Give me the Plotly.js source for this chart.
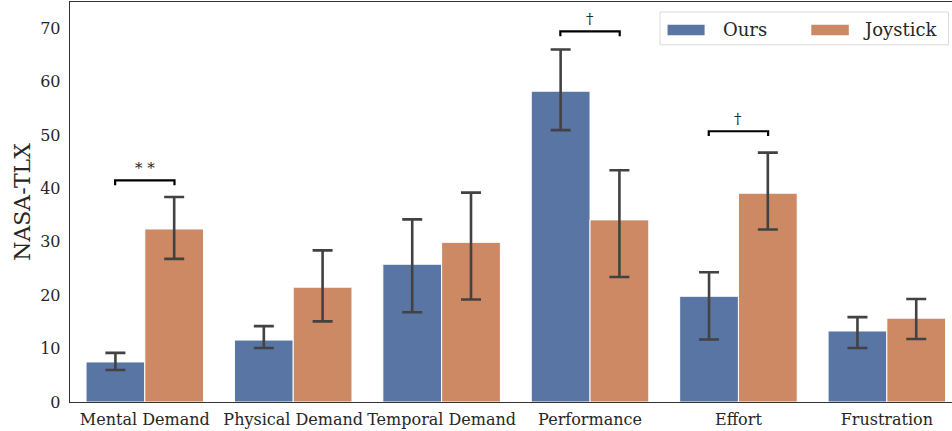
<!DOCTYPE html>
<html>
<head>
<meta charset="utf-8">
<script src="https://cdn.plot.ly/plotly-3.0.1.min.js"></script>
<style>html,body{margin:0;padding:0;background:#fff;}#chart{width:952px;height:431px;}</style>
</head>
<body>
<div id="chart"></div>
<script>
const categories = ["Mental Demand", "Physical Demand", "Temporal Demand", "Performance", "Effort", "Frustration"];
const oursMean = [7.5, 11.6, 25.8, 58.2, 19.8, 13.3];
const oursHigh = [9.2, 14.2, 34.2, 66.0, 24.3, 15.9];
const oursLow  = [6.0, 10.1, 16.8, 50.9, 11.7, 10.1];
const joyMean  = [32.4, 21.5, 29.9, 34.1, 39.1, 15.7];
const joyHigh  = [38.4, 28.4, 39.2, 43.4, 46.7, 19.3];
const joyLow   = [26.8, 15.1, 19.2, 23.4, 32.3, 11.8];
const sigCategory = [0, 3, 4];
const sigHeight = [41.5, 69.4, 50.7];
const sigLabel = ["* *", "†", "†"];
const seriesNames = ["Ours", "Joystick"];
const yTicks = [0, 10, 20, 30, 40, 50, 60, 70];

const blue = "#5975a4", orange = "#cc8963", errColor = "#424242", ink = "#262626";
const font = "DejaVu Serif";
const idx = categories.map((_, i) => i);

function barTrace(name, mean, high, low, color) {
  return {
    type: "bar", name: name, x: idx, y: mean,
    marker: {color: color, line: {color: "#ffffff", width: 1}},
    error_y: {type: "data", symmetric: false,
      array: mean.map((m, i) => high[i] - m),
      arrayminus: mean.map((m, i) => m - low[i]),
      color: errColor, thickness: 2.6, width: 10},
    showlegend: false, hoverinfo: "skip"
  };
}
const traces = [
  barTrace(seriesNames[0], oursMean, oursHigh, oursLow, blue),
  barTrace(seriesNames[1], joyMean, joyHigh, joyLow, orange)
];
const annotations = [];
sigCategory.forEach((c, k) => {
  const h = sigHeight[k];
  traces.push({type: "scatter", mode: "lines", x: [c - 0.2, c - 0.2, c + 0.2, c + 0.2],
    y: [h - 0.9, h, h, h - 0.9], line: {color: "#000", width: 2.2},
    showlegend: false, hoverinfo: "skip", cliponaxis: false});
  annotations.push({x: c, y: h + 0.3, xref: "x", yref: "y", text: sigLabel[k], showarrow: false,
    yanchor: "bottom", font: {family: font, size: 15, color: ink}});
});

// manual legend
const shapes = [
  {type: "rect", xref: "paper", yref: "paper", x0: 0.669, x1: 0.996, y0: 0.893, y1: 0.975,
   line: {color: "#d9d9d9", width: 1}, fillcolor: "rgba(255,255,255,0.8)"},
  {type: "rect", xref: "paper", yref: "paper", x0: 0.6775, x1: 0.7195, y0: 0.917, y1: 0.943,
   line: {width: 0}, fillcolor: blue},
  {type: "rect", xref: "paper", yref: "paper", x0: 0.8405, x1: 0.883, y0: 0.917, y1: 0.943,
   line: {width: 0}, fillcolor: orange}
];
annotations.push({xref: "paper", yref: "paper", x: 0.738, y: 0.932, xanchor: "left", yanchor: "middle",
  text: seriesNames[0], showarrow: false, font: {family: font, size: 18, color: ink}});
annotations.push({xref: "paper", yref: "paper", x: 0.897, y: 0.932, xanchor: "left", yanchor: "middle",
  text: seriesNames[1], showarrow: false, font: {family: font, size: 18, color: ink}});

const layout = {
  width: 952, height: 431,
  margin: {l: 70, r: 0, t: 2, b: 29, pad: 0},
  paper_bgcolor: "#fff", plot_bgcolor: "#fff",
  barmode: "group", bargap: 0.208, bargroupgap: 0,
  font: {family: font, color: ink, size: 16},
  xaxis: {type: "linear", range: [-0.504, 5.439], tickvals: idx, ticktext: categories,
    showgrid: false, zeroline: false, showline: true, linecolor: "#333", linewidth: 1.3,
    mirror: true, ticks: "", ticklabelstandoff: 2,
    tickfont: {family: font, size: 16, color: ink}, fixedrange: true},
  yaxis: {range: [0, 74.9], tickvals: yTicks, showgrid: false, zeroline: false,
    showline: true, linecolor: "#333", linewidth: 1.3, mirror: false, ticks: "",
    ticklabelstandoff: 5,
    tickfont: {family: font, size: 16, color: ink},
    title: {text: "NASA-TLX", font: {family: font, size: 22, color: ink}, standoff: 3}},
  shapes: shapes, annotations: annotations, showlegend: false
};
Plotly.newPlot("chart", traces, layout, {staticPlot: true, displayModeBar: false});
</script>
</body>
</html>
